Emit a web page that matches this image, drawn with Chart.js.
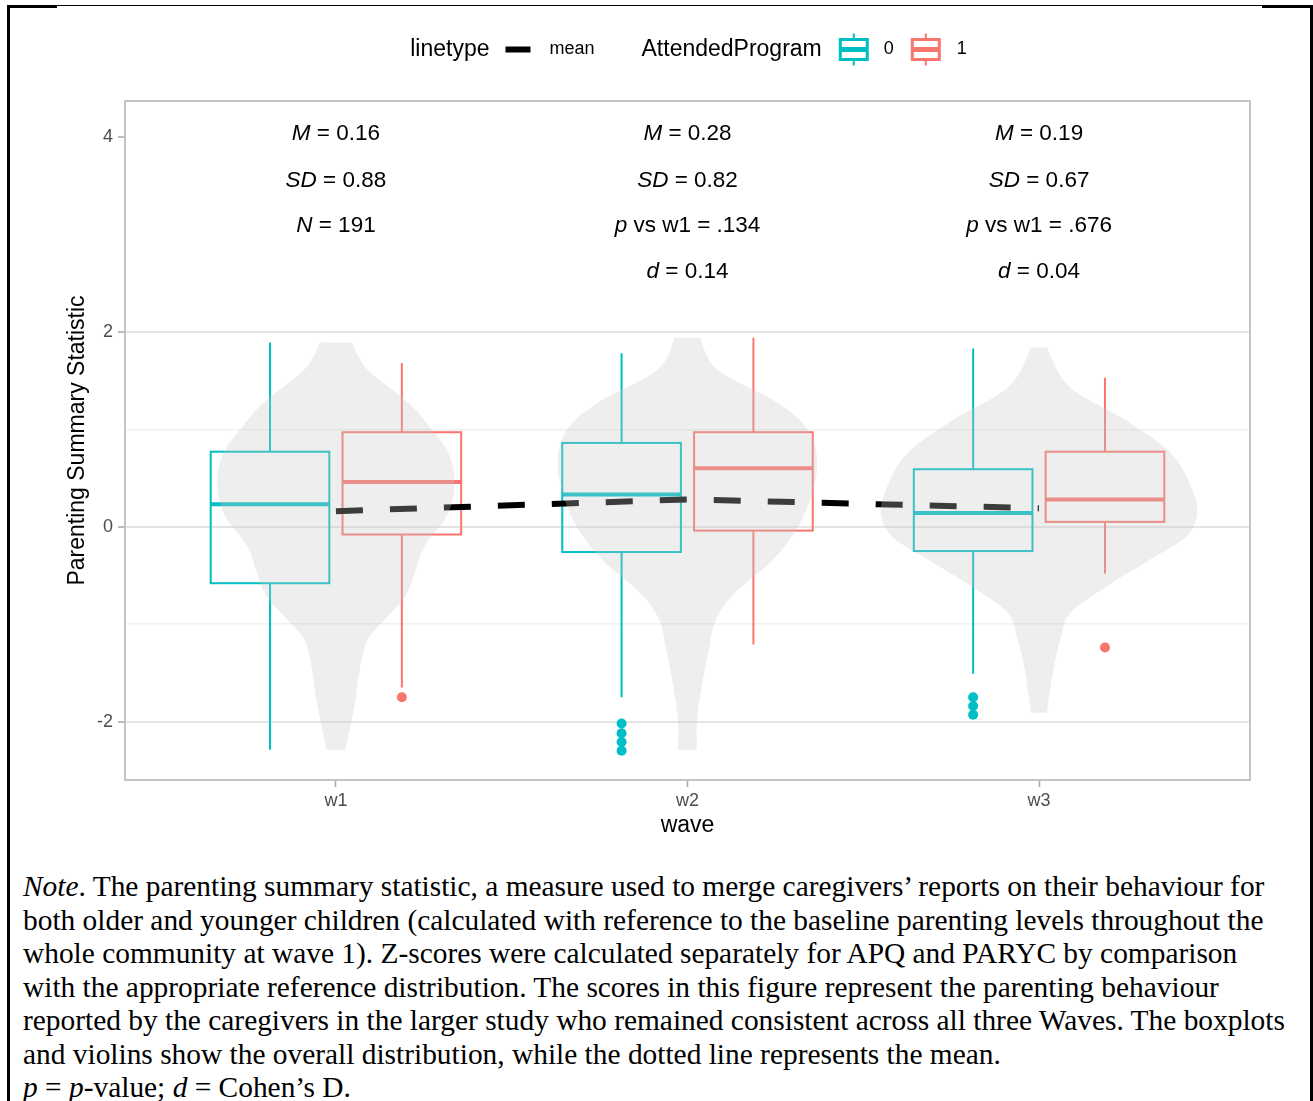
<!DOCTYPE html>
<html>
<head>
<meta charset="utf-8">
<title>Parenting summary statistic by wave</title>
<script src="https://cdn.jsdelivr.net/npm/chart.js@4.4.1/dist/chart.umd.min.js"></script>
<style>
    body {
        margin: 0;
        width: 1313px;
        height: 1101px;
        overflow: hidden;
        background: #fff;
        position: relative;
    }

    .frame {
        position: absolute;
        left: 7px;
        top: 5px;
        width: 1300px;
        height: 1100px;
        border-left: 3px solid #000;
        border-right: 3px solid #000;
        border-top: 1px solid #000;
    }

    .frame-corner {
        position: absolute;
        top: 5px;
        width: 50px;
        height: 2.5px;
        background: #000;
    }

    #chart-container {
        position: absolute;
        left: 10px;
        top: 7px;
        width: 1298px;
        height: 853px;
    }

    .note {
        position: absolute;
        left: 23px;
        top: 870px;
        font-family: 'Liberation Serif', 'Times New Roman', serif;
        font-size: 29.4px;
        line-height: 33.5px;
        white-space: nowrap;
        color: #000;
    }
</style>
</head>
<body>
<div class="frame"></div>
<div class="frame-corner" style="left: 7px;"></div>
<div class="frame-corner" style="left: 1262px;"></div>

<div id="chart-container">
    <canvas></canvas>
</div>

<div class="note">
    <i>Note</i>. The parenting summary statistic, a measure used to merge caregivers’ reports on their behaviour for<br>
    both older and younger children (calculated with reference to the baseline parenting levels throughout the<br>
    whole community at wave 1). Z-scores were calculated separately for APQ and PARYC by comparison<br>
    with the appropriate reference distribution. The scores in this figure represent the parenting behaviour<br>
    reported by the caregivers in the larger study who remained consistent across all three Waves. The boxplots<br>
    and violins show the overall distribution, while the dotted line represents the mean.<br>
    <i>p</i> = <i>p</i>-value; <i>d</i> = Cohen’s D.
</div>

<script>
const waveLabels = ['w1', 'w2', 'w3'];
const programLevels = ['0', '1'];

// mean and summary statistics per wave
const waveMeans = [0.16, 0.28, 0.19];
const waveSDs = [0.88, 0.82, 0.67];
const sampleSize = 191;
const pVsW1 = [null, '.134', '.676'];
const cohensD = [null, 0.14, 0.04];

// box statistics, AttendedProgram = 0
const lowerWhisker0 = [-2.29, -1.75, -1.51];
const lowerQuartile0 = [-0.58, -0.26, -0.25];
const median0 = [0.23, 0.33, 0.14];
const upperQuartile0 = [0.77, 0.86, 0.59];
const upperWhisker0 = [1.89, 1.78, 1.83];
const outliers0 = [[], [-2.02, -2.12, -2.21, -2.30], [-1.75, -1.84, -1.93]];

// box statistics, AttendedProgram = 1
const lowerWhisker1 = [-1.65, -1.21, -0.48];
const lowerQuartile1 = [-0.08, -0.04, 0.05];
const median1 = [0.46, 0.60, 0.28];
const upperQuartile1 = [0.97, 0.97, 0.77];
const upperWhisker1 = [1.68, 1.94, 1.53];
const outliers1 = [[-1.75], [], [-1.24]];

// violin outlines: value levels and relative density at each level
const violinLevelsW1 = [1.89, 1.61, 1.27, 0.99, 0.76, 0.48, 0.14, -0.20, -0.47, -0.71, -0.95, -1.16, -1.47, -1.81, -2.29];
const violinDensityW1 = [0.10, 0.20, 0.46, 0.61, 0.71, 0.75, 0.71, 0.56, 0.50, 0.44, 0.31, 0.20, 0.15, 0.12, 0.06];
const violinLevelsW2 = [1.94, 1.61, 1.27, 1.00, 0.69, 0.35, 0.00, -0.34, -0.68, -0.95, -1.30, -1.64, -1.98, -2.29];
const violinDensityW2 = [0.08, 0.19, 0.57, 0.76, 0.82, 0.79, 0.70, 0.54, 0.30, 0.18, 0.13, 0.09, 0.06, 0.06];
const violinLevelsW3 = [1.84, 1.44, 1.10, 0.76, 0.41, 0.14, -0.10, -0.34, -0.61, -0.88, -1.13, -1.47, -1.91];
const violinDensityW3 = [0.05, 0.19, 0.54, 0.83, 0.96, 1.00, 0.93, 0.70, 0.43, 0.20, 0.14, 0.09, 0.05];

const yTickValues = [-2, -1, 0, 1, 2, 3, 4];

const colors = ['#00BFC4', '#F8766D'];
const sansFamily = '"Liberation Sans", Arial, Helvetica, sans-serif';
const dodge = 0.1875;
const boxWidth = 0.3375;
const violinMaxHalfWidth = 0.45;

let chart = undefined;

window.onload = function() {
    createChart();
}

function boxStats(program, i) {
    if (program === 0) {
        return [lowerWhisker0[i], lowerQuartile0[i], median0[i], upperQuartile0[i], upperWhisker0[i]];
    }
    return [lowerWhisker1[i], lowerQuartile1[i], median1[i], upperQuartile1[i], upperWhisker1[i]];
}

function outlierPoints(outliers, offset) {
    const points = [];
    outliers.forEach((values, i) => {
        values.forEach(value => points.push({ x: i + 1 + offset, y: value }));
    });
    return points;
}

function drawBox(ctx, xScale, yScale, center, stats, color) {
    const left = xScale.getPixelForValue(center - boxWidth / 2);
    const right = xScale.getPixelForValue(center + boxWidth / 2);
    const mid = xScale.getPixelForValue(center);
    const [low, q1, median, q3, high] = stats.map(v => yScale.getPixelForValue(v));

    ctx.save();
    ctx.strokeStyle = color;
    ctx.lineWidth = 2;
    ctx.beginPath();
    ctx.moveTo(mid, high);
    ctx.lineTo(mid, q3);
    ctx.moveTo(mid, q1);
    ctx.lineTo(mid, low);
    ctx.stroke();
    ctx.strokeRect(left, q3, right - left, q1 - q3);

    ctx.lineWidth = 4;
    ctx.beginPath();
    ctx.moveTo(left, median);
    ctx.lineTo(right, median);
    ctx.stroke();
    ctx.restore();
}

// smooth curve through points (catmull-rom turned into bezier segments)
function smoothPath(ctx, points, moveFirst) {
    if (moveFirst) {
        ctx.moveTo(points[0].x, points[0].y);
    } else {
        ctx.lineTo(points[0].x, points[0].y);
    }
    for (let i = 0; i < points.length - 1; i++) {
        const p0 = points[Math.max(i - 1, 0)];
        const p1 = points[i];
        const p2 = points[i + 1];
        const p3 = points[Math.min(i + 2, points.length - 1)];
        ctx.bezierCurveTo(
            p1.x + (p2.x - p0.x) / 6, p1.y + (p2.y - p0.y) / 6,
            p2.x - (p3.x - p1.x) / 6, p2.y - (p3.y - p1.y) / 6,
            p2.x, p2.y
        );
    }
}

function drawViolin(ctx, xScale, yScale, center, levels, density) {
    const leftSide = levels.map((level, i) => ({
        x: xScale.getPixelForValue(center - density[i] * violinMaxHalfWidth),
        y: yScale.getPixelForValue(level),
    }));
    const rightSide = levels.map((level, i) => ({
        x: xScale.getPixelForValue(center + density[i] * violinMaxHalfWidth),
        y: yScale.getPixelForValue(level),
    })).reverse();

    ctx.save();
    ctx.fillStyle = 'rgba(200, 200, 200, 0.3)';
    ctx.beginPath();
    smoothPath(ctx, leftSide, true);
    smoothPath(ctx, rightSide, false);
    ctx.closePath();
    ctx.fill();
    ctx.restore();
}

const panelPlugin = {
    id: 'panel',
    beforeDatasetsDraw(chart) {
        const { ctx, chartArea, scales } = chart;

        ctx.save();
        ctx.strokeStyle = '#c4c4c4';
        ctx.lineWidth = 2;
        ctx.strokeRect(chartArea.left, chartArea.top, chartArea.right - chartArea.left, chartArea.bottom - chartArea.top);
        ctx.restore();

        waveLabels.forEach((label, i) => {
            drawBox(ctx, scales.x, scales.y, i + 1 - dodge, boxStats(0, i), colors[0]);
            drawBox(ctx, scales.x, scales.y, i + 1 + dodge, boxStats(1, i), colors[1]);
        });
    },
    afterDatasetsDraw(chart) {
        const { ctx, scales } = chart;
        drawViolin(ctx, scales.x, scales.y, 1, violinLevelsW1, violinDensityW1);
        drawViolin(ctx, scales.x, scales.y, 2, violinLevelsW2, violinDensityW2);
        drawViolin(ctx, scales.x, scales.y, 3, violinLevelsW3, violinDensityW3);
    },
};

function drawMixedText(ctx, parts, cx, cy, size) {
    const fontFor = italic => `${italic ? 'italic ' : ''}${size}px ${sansFamily}`;
    let total = 0;
    parts.forEach(part => {
        ctx.font = fontFor(part.italic);
        total += ctx.measureText(part.text).width;
    });

    let x = cx - total / 2;
    parts.forEach(part => {
        ctx.font = fontFor(part.italic);
        ctx.fillText(part.text, x, cy);
        x += ctx.measureText(part.text).width;
    });
}

function statLines(i) {
    const lines = [
        [{ text: 'M', italic: true }, { text: ` = ${waveMeans[i].toFixed(2)}` }],
        [{ text: 'SD', italic: true }, { text: ` = ${waveSDs[i].toFixed(2)}` }],
    ];
    if (pVsW1[i] === null) {
        lines.push([{ text: 'N', italic: true }, { text: ` = ${sampleSize}` }]);
    } else {
        lines.push([{ text: 'p', italic: true }, { text: ` vs w1 = ${pVsW1[i]}` }]);
        lines.push([{ text: 'd', italic: true }, { text: ` = ${cohensD[i].toFixed(2)}` }]);
    }
    return lines;
}

const annotationPlugin = {
    id: 'annotations',
    afterDraw(chart) {
        const { ctx, scales } = chart;
        const rowLevels = [4.03, 3.555, 3.09, 2.615];

        ctx.save();
        ctx.fillStyle = '#000';
        ctx.textBaseline = 'middle';
        waveLabels.forEach((label, i) => {
            statLines(i).forEach((parts, row) => {
                drawMixedText(ctx, parts, scales.x.getPixelForValue(i + 1), scales.y.getPixelForValue(rowLevels[row]), 22.5);
            });
        });
        ctx.restore();
    },
};

function drawLegendBoxKey(ctx, x, y, width, color) {
    const mid = x + width / 2;
    ctx.strokeStyle = color;
    ctx.lineWidth = 2;
    ctx.beginPath();
    ctx.moveTo(mid, y - 16);
    ctx.lineTo(mid, y - 10);
    ctx.moveTo(mid, y + 10);
    ctx.lineTo(mid, y + 16);
    ctx.stroke();
    ctx.fillStyle = '#fff';
    ctx.lineWidth = 3;
    ctx.fillRect(x + 1.5, y - 10, width - 3, 20);
    ctx.strokeRect(x + 1.5, y - 10, width - 3, 20);
    ctx.lineWidth = 5;
    ctx.beginPath();
    ctx.moveTo(x + 1.5, y);
    ctx.lineTo(x + width - 1.5, y);
    ctx.stroke();
}

const legendPlugin = {
    id: 'topLegend',
    afterDraw(chart) {
        const { ctx, chartArea } = chart;
        const y = 42.5;
        const titleFont = `23px ${sansFamily}`;
        const labelFont = `18px ${sansFamily}`;
        const items = [
            { kind: 'text', text: 'linetype', font: titleFont, gap: 16 },
            { kind: 'line', width: 25, gap: 19 },
            { kind: 'text', text: 'mean', font: labelFont, gap: 47 },
            { kind: 'text', text: 'AttendedProgram', font: titleFont, gap: 17 },
            { kind: 'box', color: colors[0], width: 30, gap: 15 },
            { kind: 'text', text: programLevels[0], font: labelFont, gap: 17 },
            { kind: 'box', color: colors[1], width: 30, gap: 16 },
            { kind: 'text', text: programLevels[1], font: labelFont, gap: 0 },
        ];

        ctx.save();
        items.forEach(item => {
            if (item.kind === 'text') {
                ctx.font = item.font;
                item.width = ctx.measureText(item.text).width;
            }
        });
        const total = items.reduce((sum, item) => sum + item.width + item.gap, 0);
        let x = (chartArea.left + chartArea.right) / 2 - total / 2 + 1;

        ctx.textBaseline = 'middle';
        items.forEach(item => {
            if (item.kind === 'text') {
                ctx.font = item.font;
                ctx.fillStyle = '#000';
                ctx.fillText(item.text, x, y);
            } else if (item.kind === 'line') {
                ctx.fillStyle = '#000';
                ctx.fillRect(x, y - 3, item.width, 6);
            } else {
                drawLegendBoxKey(ctx, x, y, item.width, item.color);
            }
            x += item.width + item.gap;
        });
        ctx.restore();
    },
};

function createChart() {
    const chartCanvas = document.querySelector('#chart-container > canvas');

    chart = new Chart(chartCanvas, {
        type: 'line',
        data: {
            datasets: [
                {
                    label: 'mean',
                    data: waveMeans.map((mean, i) => ({ x: i + 1, y: mean })),
                    borderColor: '#000',
                    borderWidth: 6,
                    borderDash: [27, 27],
                    borderCapStyle: 'butt',
                    pointRadius: 0,
                    fill: false,
                    order: 1,
                },
                {
                    type: 'scatter',
                    label: programLevels[0],
                    data: outlierPoints(outliers0, -dodge),
                    pointRadius: 5,
                    pointBackgroundColor: colors[0],
                    pointBorderWidth: 0,
                    order: 2,
                },
                {
                    type: 'scatter',
                    label: programLevels[1],
                    data: outlierPoints(outliers1, dodge),
                    pointRadius: 5,
                    pointBackgroundColor: colors[1],
                    pointBorderWidth: 0,
                    order: 2,
                },
            ],
        },
        options: {
            responsive: true,
            maintainAspectRatio: false,
            animation: false,
            layout: {
                padding: { top: 94, right: 58, left: 0, bottom: 0 },
            },
            plugins: {
                legend: { display: false },
                tooltip: { enabled: false },
            },
            scales: {
                x: {
                    type: 'linear',
                    min: 0.4,
                    max: 3.6,
                    bounds: 'data',
                    afterBuildTicks: scale => {
                        scale.ticks = waveLabels.map((label, i) => ({ value: i + 1 }));
                    },
                    afterFit: scale => {
                        scale.height = 80;
                    },
                    ticks: {
                        callback: value => waveLabels[Math.round(value) - 1],
                        color: '#4d4d4d',
                        font: { family: sansFamily, size: 18 },
                        padding: 3,
                        autoSkip: false,
                        maxRotation: 0,
                    },
                    grid: {
                        drawOnChartArea: false,
                        tickLength: 7,
                        tickColor: '#a6a6a6',
                        tickWidth: 1.5,
                    },
                    border: { display: false },
                    title: {
                        display: true,
                        text: 'wave',
                        color: '#000',
                        font: { family: sansFamily, size: 23 },
                        padding: { top: 0, bottom: 21 },
                    },
                },
                y: {
                    type: 'linear',
                    min: -2.6,
                    max: 4.37,
                    bounds: 'data',
                    afterBuildTicks: scale => {
                        scale.ticks = yTickValues.map(value => ({ value: value }));
                    },
                    afterFit: scale => {
                        scale.width = 115;
                    },
                    ticks: {
                        callback: value => (value % 2 === 0 ? String(value) : ''),
                        color: '#4d4d4d',
                        font: { family: sansFamily, size: 18 },
                        padding: 5,
                    },
                    grid: {
                        color: context => {
                            const value = context.tick.value;
                            if (value > 2) {
                                return 'rgba(0,0,0,0)';
                            }
                            return value % 2 === 0 ? '#e4e4e4' : '#f0f0f0';
                        },
                        lineWidth: context => (context.tick.value % 2 === 0 ? 2 : 1.5),
                        tickLength: 7,
                        tickColor: context => (context.tick.value % 2 === 0 ? '#a6a6a6' : 'rgba(0,0,0,0)'),
                        tickWidth: 1.5,
                    },
                    border: { display: false },
                    title: {
                        display: true,
                        text: 'Parenting Summary Statistic',
                        color: '#000',
                        font: { family: sansFamily, size: 23 },
                        padding: { top: 54, bottom: 0 },
                    },
                },
            },
        },
        plugins: [panelPlugin, annotationPlugin, legendPlugin],
    });
}
</script>
</body>
</html>
